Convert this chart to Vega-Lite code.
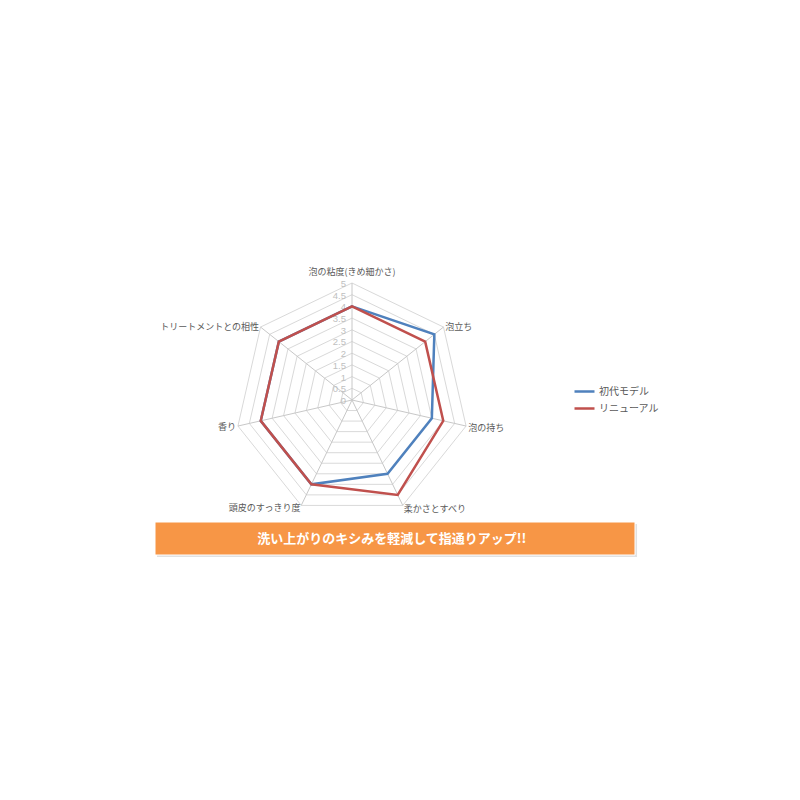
{
  "$schema": "https://vega.github.io/schema/vega-lite/v6.json",
  "width": 800,
  "height": 800,
  "autosize": {"type": "none"},
  "padding": 0,
  "background": "white",
  "config": {"view": {"stroke": null}, "font": "Noto Sans CJK JP"},
  "datasets": {
    "axes": [
      {"k": 0, "name": "泡の粘度(きめ細かさ)", "lv": [0.5,1,1.5,2,2.5,3,3.5,4,4.5,5]},
      {"k": 1, "name": "泡立ち", "lv": [0.5,1,1.5,2,2.5,3,3.5,4,4.5,5]},
      {"k": 2, "name": "泡の持ち", "lv": [0.5,1,1.5,2,2.5,3,3.5,4,4.5,5]},
      {"k": 3, "name": "柔かさとすべり", "lv": [0.5,1,1.5,2,2.5,3,3.5,4,4.5,5]},
      {"k": 4, "name": "頭皮のすっきり度", "lv": [0.5,1,1.5,2,2.5,3,3.5,4,4.5,5]},
      {"k": 5, "name": "香り", "lv": [0.5,1,1.5,2,2.5,3,3.5,4,4.5,5]},
      {"k": 6, "name": "トリートメントとの相性", "lv": [0.5,1,1.5,2,2.5,3,3.5,4,4.5,5]}
    ],
    "ticks": [
      {"lv": 0, "label": "0"}, {"lv": 0.5, "label": "0.5"}, {"lv": 1, "label": "1"},
      {"lv": 1.5, "label": "1.5"}, {"lv": 2, "label": "2"}, {"lv": 2.5, "label": "2.5"},
      {"lv": 3, "label": "3"}, {"lv": 3.5, "label": "3.5"}, {"lv": 4, "label": "4"},
      {"lv": 4.5, "label": "4.5"}, {"lv": 5, "label": "5"}
    ],
    "scores": [
      {"series": "初代モデル", "k": 0, "value": 4},
      {"series": "初代モデル", "k": 1, "value": 4.5},
      {"series": "初代モデル", "k": 2, "value": 3.5},
      {"series": "初代モデル", "k": 3, "value": 3.5},
      {"series": "初代モデル", "k": 4, "value": 4},
      {"series": "初代モデル", "k": 5, "value": 4},
      {"series": "初代モデル", "k": 6, "value": 4},
      {"series": "リニューアル", "k": 0, "value": 4},
      {"series": "リニューアル", "k": 1, "value": 4},
      {"series": "リニューアル", "k": 2, "value": 4},
      {"series": "リニューアル", "k": 3, "value": 4.5},
      {"series": "リニューアル", "k": 4, "value": 4},
      {"series": "リニューアル", "k": 5, "value": 4},
      {"series": "リニューアル", "k": 6, "value": 4}
    ],
    "banner": [{"text": "洗い上がりのキシみを軽減して指通りアップ!!"}]
  },
  "layer": [
    {
      "data": {"name": "axes"},
      "transform": [
        {"flatten": ["lv"]},
        {"calculate": "datum.k * 2 * PI / 7", "as": "a"},
        {"calculate": "datum.lv * sin(datum.a)", "as": "x"},
        {"calculate": "datum.lv * cos(datum.a)", "as": "y"}
      ],
      "mark": {"type": "line", "interpolate": "linear-closed", "stroke": "#d9d9d9", "strokeWidth": 1},
      "encoding": {
        "x": {"field": "x", "type": "quantitative", "scale": {"domain": [-15.043, 19.145], "nice": false, "zero": false}, "axis": null},
        "y": {"field": "y", "type": "quantitative", "scale": {"domain": [-17.094, 17.094], "nice": false, "zero": false}, "axis": null},
        "detail": {"field": "lv"}, "order": {"field": "k"}
      }
    },
    {
      "data": {"name": "axes"},
      "transform": [
        {"calculate": "datum.k * 2 * PI / 7", "as": "a"},
        {"calculate": "5 * sin(datum.a)", "as": "x"},
        {"calculate": "5 * cos(datum.a)", "as": "y"}
      ],
      "mark": {"type": "rule", "stroke": "#c8c8c8", "strokeWidth": 1},
      "encoding": {
        "x": {"field": "x", "type": "quantitative"},
        "y": {"field": "y", "type": "quantitative"},
        "x2": {"datum": 0}, "y2": {"datum": 0}
      }
    },
    {
      "data": {"name": "ticks"},
      "transform": [
        {"calculate": "0", "as": "x"},
        {"calculate": "datum.lv", "as": "y"}
      ],
      "mark": {"type": "text", "align": "right", "baseline": "middle", "dx": -6, "dy": 1, "fontSize": 9.5, "fill": "#c0c0c0", "font": "Liberation Sans"},
      "encoding": {
        "x": {"field": "x", "type": "quantitative"},
        "y": {"field": "y", "type": "quantitative"},
        "text": {"field": "label"}
      }
    },
    {
      "data": {"name": "scores"},
      "transform": [
        {"filter": "datum.series == '初代モデル'"},
        {"calculate": "datum.k * 2 * PI / 7", "as": "a"},
        {"calculate": "datum.value * sin(datum.a)", "as": "x"},
        {"calculate": "datum.value * cos(datum.a)", "as": "y"}
      ],
      "mark": {"type": "line", "interpolate": "linear-closed", "strokeWidth": 2.5},
      "encoding": {
        "x": {"field": "x", "type": "quantitative"},
        "y": {"field": "y", "type": "quantitative"},
        "order": {"field": "k"},
        "color": {"field": "series", "type": "nominal",
          "scale": {"domain": ["初代モデル", "リニューアル"], "range": ["#4f81bd", "#c0504d"]},
          "legend": {"title": null, "orient": "none", "legendX": 573, "legendY": 380,
            "symbolType": "stroke", "symbolSize": 400, "symbolStrokeWidth": 2.5,
            "labelFontSize": 10, "labelColor": "#595959", "labelFont": "Noto Sans CJK JP",
            "rowPadding": 0, "labelOffset": 3}}
      }
    },
    {
      "data": {"name": "scores"},
      "transform": [
        {"filter": "datum.series == 'リニューアル'"},
        {"calculate": "datum.k * 2 * PI / 7", "as": "a"},
        {"calculate": "datum.value * sin(datum.a)", "as": "x"},
        {"calculate": "datum.value * cos(datum.a)", "as": "y"}
      ],
      "mark": {"type": "line", "interpolate": "linear-closed", "strokeWidth": 2.5},
      "encoding": {
        "x": {"field": "x", "type": "quantitative"},
        "y": {"field": "y", "type": "quantitative"},
        "order": {"field": "k"},
        "color": {"field": "series", "type": "nominal"}
      }
    },
    {
      "data": {"name": "axes"},
      "transform": [
        {"filter": "datum.k == 0"},
        {"calculate": "0", "as": "x"},
        {"calculate": "5.25", "as": "y"}
      ],
      "mark": {"type": "text", "align": "center", "baseline": "bottom", "fontSize": 9, "fill": "#595959"},
      "encoding": {
        "x": {"field": "x", "type": "quantitative"},
        "y": {"field": "y", "type": "quantitative"},
        "text": {"field": "name"}
      }
    },
    {
      "data": {"name": "axes"},
      "transform": [
        {"filter": "datum.k >= 1 && datum.k <= 3"},
        {"calculate": "datum.k * 2 * PI / 7", "as": "a"},
        {"calculate": "5.1 * sin(datum.a)", "as": "x"},
        {"calculate": "5.1 * cos(datum.a)", "as": "y"}
      ],
      "mark": {"type": "text", "align": "left", "baseline": "middle", "fontSize": 9, "fill": "#595959", "dy": 1},
      "encoding": {
        "x": {"field": "x", "type": "quantitative"},
        "y": {"field": "y", "type": "quantitative"},
        "text": {"field": "name"}
      }
    },
    {
      "data": {"name": "axes"},
      "transform": [
        {"filter": "datum.k >= 4"},
        {"calculate": "datum.k * 2 * PI / 7", "as": "a"},
        {"calculate": "5.08 * sin(datum.a)", "as": "x"},
        {"calculate": "5.08 * cos(datum.a)", "as": "y"}
      ],
      "mark": {"type": "text", "align": "right", "baseline": "middle", "fontSize": 9, "fill": "#595959", "dy": 1},
      "encoding": {
        "x": {"field": "x", "type": "quantitative"},
        "y": {"field": "y", "type": "quantitative"},
        "text": {"field": "name"}
      }
    },
    {
      "data": {"name": "banner"},
      "mark": {"type": "rect", "fill": "#c4c4c4", "opacity": 0.5, "xOffset": 2, "yOffset": 2, "x2Offset": 2, "y2Offset": 2},
      "encoding": {
        "x": {"datum": -8.419, "type": "quantitative"}, "x2": {"datum": 12.094},
        "y": {"datum": -5.214, "type": "quantitative"}, "y2": {"datum": -6.624}
      }
    },
    {
      "data": {"name": "banner"},
      "mark": {"type": "rect", "fill": "#f79646", "stroke": "#ffffff", "strokeWidth": 1},
      "encoding": {
        "x": {"datum": -8.419, "type": "quantitative"}, "x2": {"datum": 12.094},
        "y": {"datum": -5.214, "type": "quantitative"}, "y2": {"datum": -6.624}
      }
    },
    {
      "data": {"name": "banner"},
      "mark": {"type": "text", "align": "center", "baseline": "middle", "fontSize": 13, "fontWeight": "bold", "fill": "#ffffff", "font": "Noto Sans CJK JP"},
      "encoding": {
        "x": {"datum": 1.7, "type": "quantitative"}, "y": {"datum": -5.94, "type": "quantitative"},
        "text": {"field": "text"}
      }
    }
  ]
}
